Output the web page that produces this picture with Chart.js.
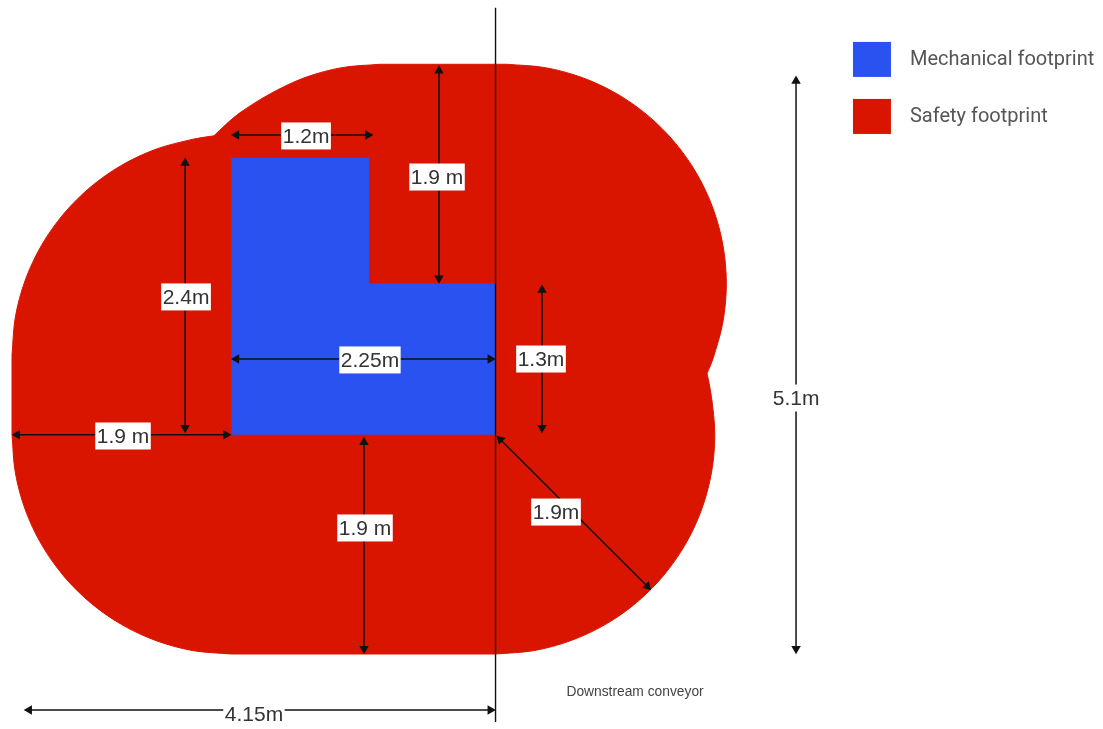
<!DOCTYPE html>
<html>
<head>
<meta charset="utf-8">
<title>Footprint</title>
<script src="https://cdn.jsdelivr.net/npm/chart.js@4"></script>
<style>
  html, body { margin: 0; padding: 0; background: #fff; overflow: hidden; }
  canvas { display: block; filter: blur(0.5px); }
</style>
</head>
<body>
<canvas id="footprint" width="1103" height="729"></canvas>
<script>
// everything is in metres
// corners and the ends of the straight runs are listed twice to keep them from rounding
const safetyX = [1.90, 1.90, 1.57, 1.25, 0.95, 0.679, 0.445, 0.255, 0.115, 0.029, 0, 0,
  0, 0, 0.029, 0.115, 0.255, 0.445, 0.679, 0.95, 1.25, 1.57, 1.75, 1.75,
  1.85, 1.968, 2.239, 2.539, 2.859, 3.189, 3.189,
  4.29, 4.29, 4.62, 4.94, 5.24, 5.511, 5.745, 5.935, 6.075, 6.161, 6.19, 6.161, 6.075, 6.023, 6.023,
  6.061, 6.09, 6.061, 5.975, 5.835, 5.645, 5.411, 5.14, 4.84, 4.52, 4.19, 4.19, 1.90];
const safetyY = [0, 0, 0.029, 0.115, 0.255, 0.445, 0.679, 0.95, 1.25, 1.57, 1.90, 1.90,
  2.59, 2.59, 2.92, 3.24, 3.54, 3.811, 4.045, 4.235, 4.375, 4.461, 4.49, 4.49,
  4.585, 4.685, 4.855, 4.995, 5.081, 5.11, 5.11,
  5.11, 5.11, 5.081, 4.995, 4.855, 4.665, 4.431, 4.16, 3.86, 3.54, 3.21, 2.88, 2.56, 2.432, 2.432,
  2.23, 1.90, 1.57, 1.25, 0.95, 0.679, 0.445, 0.255, 0.115, 0.029, 0, 0, 0];

const mechanicalX = [1.90, 3.095, 3.095, 4.19, 4.19, 1.90, 1.90];
const mechanicalY = [4.30, 4.30, 3.21, 3.21, 1.90, 1.90, 4.30];

const conveyorX = [4.19, 4.19];
const conveyorY = [5.60, -0.59];

// [x1, y1, x2, y2]
const arrows = [
  [1.90, 4.497, 3.13, 4.497],
  [1.50, 4.30, 1.50, 1.915],
  [3.70, 5.10, 3.70, 3.21],
  [1.90, 2.556, 4.19, 2.556],
  [4.593, 3.20, 4.593, 1.915],
  [0, 1.90, 1.90, 1.90],
  [3.05, 1.88, 3.05, 0],
  [4.20, 1.89, 5.537, 0.555],
  [6.794, 5.01, 6.794, 0],
  [0.104, -0.485, 4.19, -0.485]
];

const dimTexts = ['1.2m', '2.4m', '1.9 m', '2.25m', '1.3m', '1.9 m', '1.9 m', '1.9m', '5.1m', '4.15m'];
const dimX = [2.548, 1.508, 3.683, 3.102, 4.584, 0.962, 3.059, 4.714, 6.795, 2.097];
const dimY = [4.489, 3.094, 4.133, 2.548, 2.556, 1.889, 1.092, 1.23, 2.218, -0.52];

const legendTexts = ['Mechanical footprint', 'Safety footprint'];
const legendColors = ['#2a52f0', '#d91500'];
const legendX = 7.452;
const legendY = [5.152, 4.658];

const noteText = 'Downstream conveyor';
const noteX = 5.399;
const noteY = -0.329;

function toPoints(xs, ys) {
  return xs.map((x, i) => ({ x: x, y: ys[i] }));
}

// a two point line with a triangle on each end, pulled in so the tip lands on the end
function arrowDataset(a) {
  const len = Math.hypot(a[2] - a[0], a[3] - a[1]);
  const ux = (a[2] - a[0]) / len;
  const uy = (a[3] - a[1]) / len;
  const inset = 0.045;
  const angle = Math.atan2(ux, uy) * 180 / Math.PI;
  return {
    data: [
      { x: a[0] + ux * inset, y: a[1] + uy * inset },
      { x: a[2] - ux * inset, y: a[3] - uy * inset }
    ],
    showLine: true,
    borderColor: '#111',
    borderWidth: 1.5,
    backgroundColor: '#111',
    pointStyle: 'triangle',
    pointRadius: 5.5,
    pointBorderWidth: 0,
    pointRotation: [angle + 180, angle]
  };
}

const annotations = {
  id: 'annotations',
  afterDatasetsDraw(chart) {
    const ctx = chart.ctx;
    const sx = chart.scales.x;
    const sy = chart.scales.y;
    ctx.save();
    ctx.textAlign = 'center';
    ctx.textBaseline = 'middle';

    ctx.font = '21px "Liberation Sans", Arial, sans-serif';
    dimTexts.forEach((t, i) => {
      const px = sx.getPixelForValue(dimX[i]);
      const py = sy.getPixelForValue(dimY[i]);
      const w = ctx.measureText(t).width + 3;
      ctx.fillStyle = '#fff';
      ctx.fillRect(px - w / 2, py - 13.5, w, 27);
      ctx.fillStyle = '#333';
      ctx.fillText(t, px, py + 1);
    });

    ctx.font = '13.8px "Liberation Sans", Arial, sans-serif';
    ctx.fillStyle = '#444';
    ctx.fillText(noteText, sx.getPixelForValue(noteX), sy.getPixelForValue(noteY));

    ctx.textAlign = 'left';
    ctx.font = '20px Roboto, sans-serif';
    legendTexts.forEach((t, i) => {
      const px = sx.getPixelForValue(legendX);
      const py = sy.getPixelForValue(legendY[i]);
      ctx.fillStyle = legendColors[i];
      ctx.fillRect(px - 19, py - 17.5, 38, 35);
      ctx.fillStyle = '#555';
      ctx.fillText(t, px + 38, py + 1);
    });
    ctx.restore();
  }
};

new Chart(document.getElementById('footprint').getContext('2d'), {
  type: 'scatter',
  data: {
    // first dataset ends up on top
    datasets: [
      ...arrows.map(arrowDataset),
      {
        data: toPoints(conveyorX, conveyorY),
        showLine: true,
        borderColor: '#111',
        borderWidth: 1.4,
        pointRadius: 0
      },
      {
        data: toPoints(mechanicalX, mechanicalY),
        showLine: true,
        fill: 'shape',
        borderColor: legendColors[0],
        backgroundColor: legendColors[0],
        borderWidth: 0,
        pointRadius: 0
      },
      {
        data: toPoints(safetyX, safetyY),
        showLine: true,
        fill: 'shape',
        tension: 0.33,
        borderColor: legendColors[1],
        backgroundColor: legendColors[1],
        borderWidth: 1,
        pointRadius: 0
      }
    ]
  },
  options: {
    responsive: false,
    animation: false,
    devicePixelRatio: 1,
    layout: { padding: 0, autoPadding: false },
    plugins: { legend: { display: false }, tooltip: { enabled: false } },
    scales: {
      x: { type: 'linear', display: false, min: -0.104, max: 9.454 },
      y: { type: 'linear', display: false, min: -0.65, max: 5.667 }
    }
  },
  plugins: [annotations]
});
</script>
</body>
</html>
